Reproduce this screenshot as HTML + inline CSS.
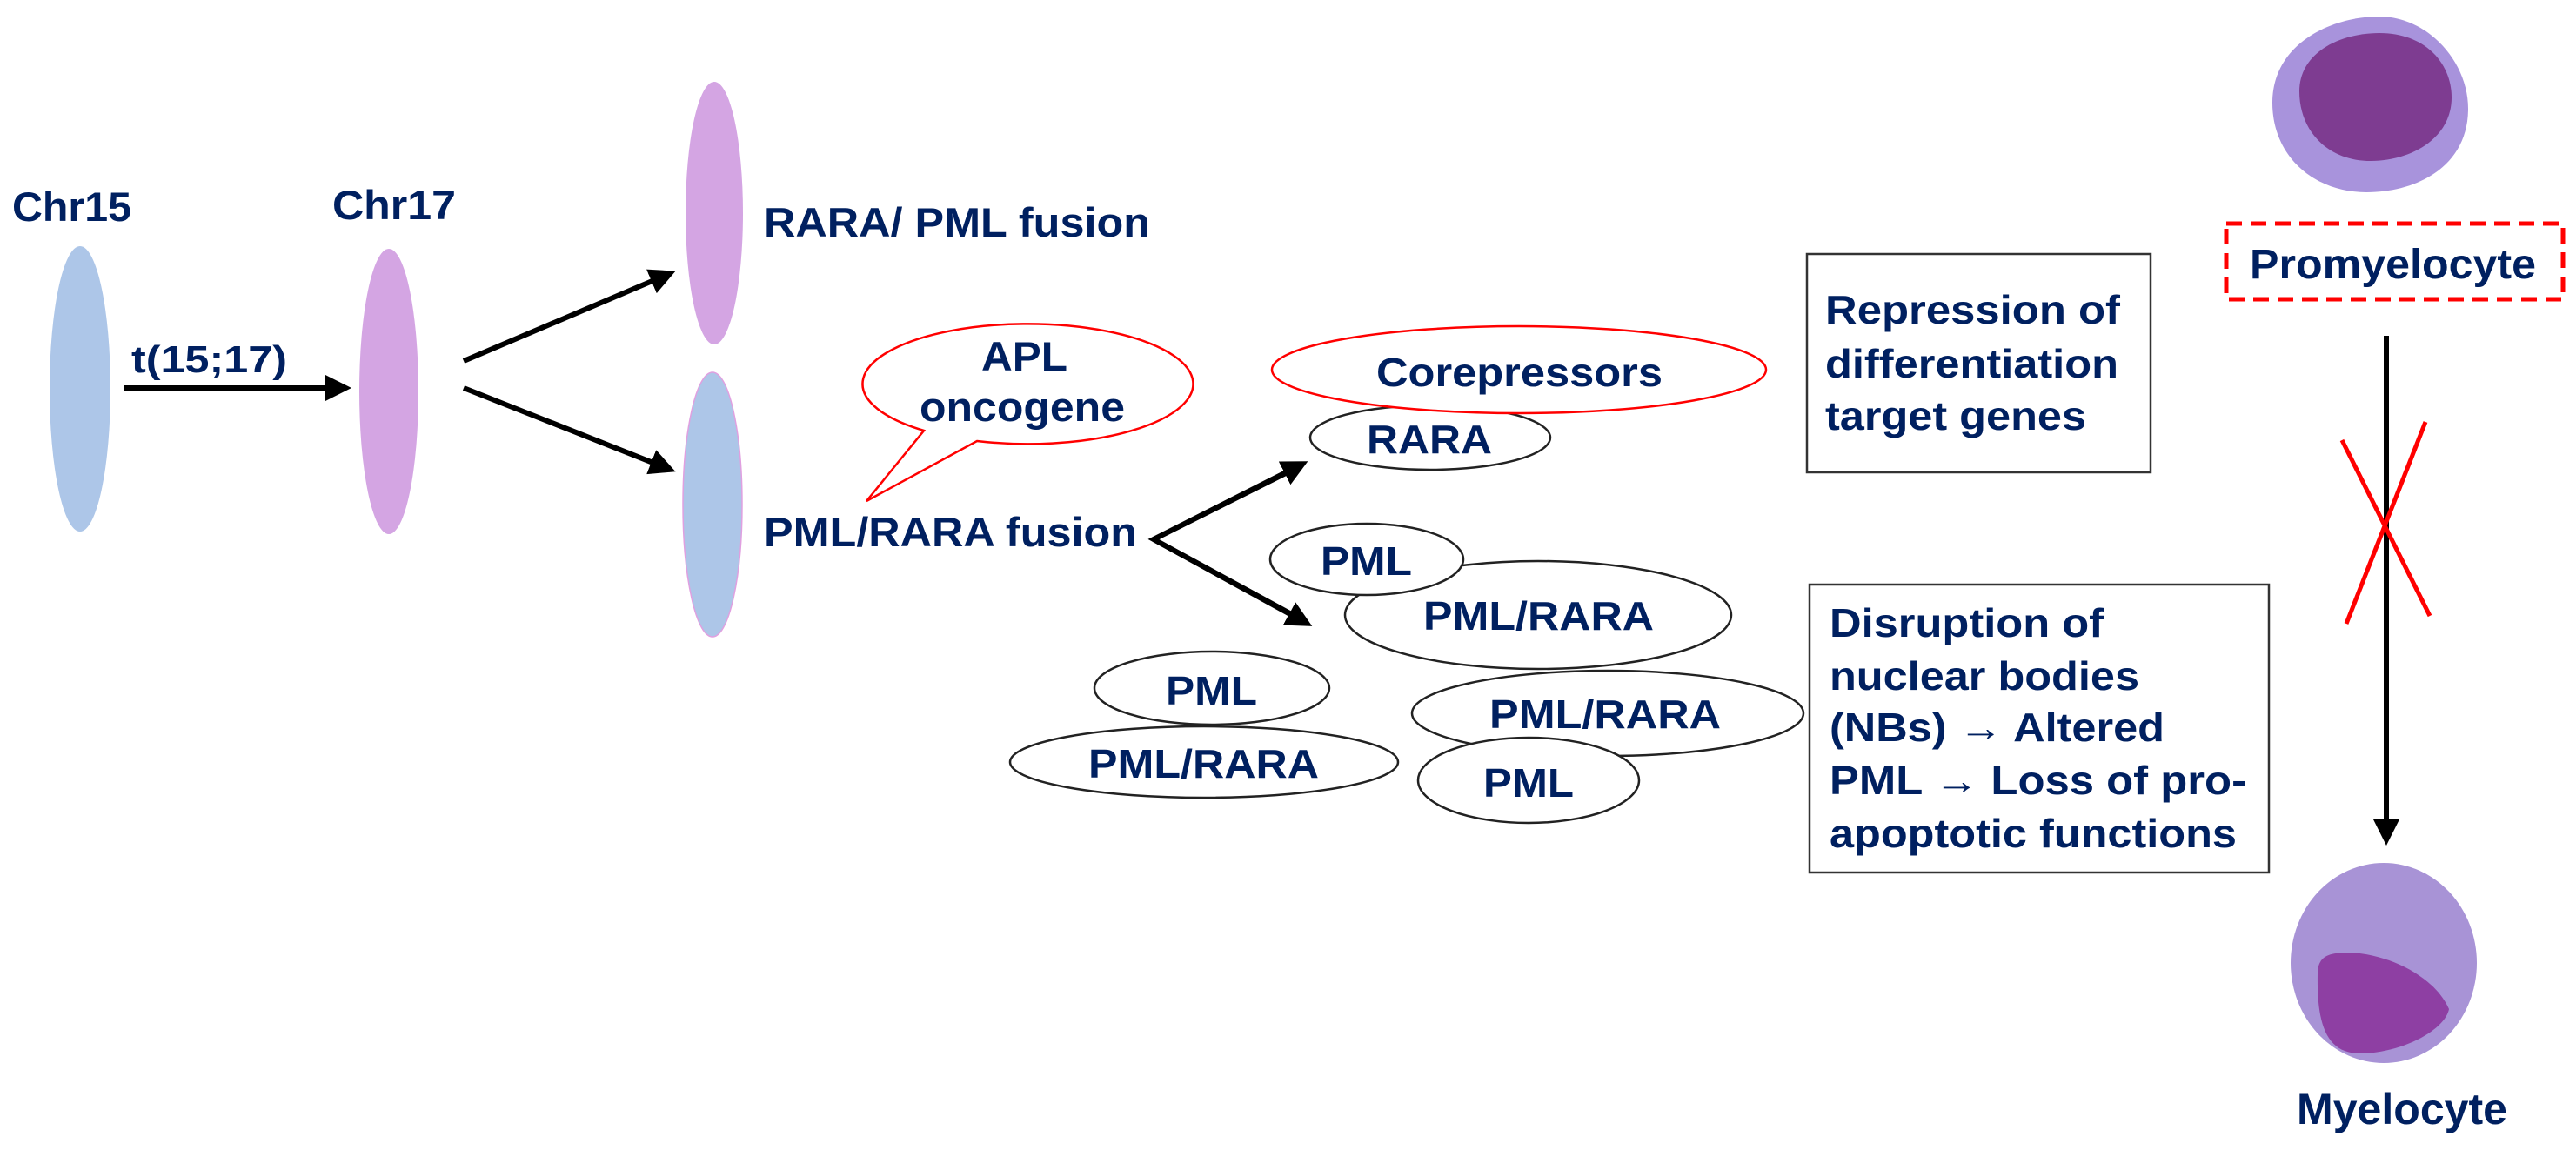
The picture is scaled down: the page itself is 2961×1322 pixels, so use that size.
<!DOCTYPE html>
<html><head><meta charset="utf-8"><style>html,body{margin:0;padding:0;background:#fff}svg{display:block}</style></head>
<body>
<svg width="2961" height="1322" viewBox="0 0 2961 1322" xmlns="http://www.w3.org/2000/svg">
<defs>
<marker id="ah" markerWidth="5" markerHeight="5" refX="4" refY="2.5" orient="auto" markerUnits="strokeWidth">
<path d="M0,0 L5,2.5 L0,5 Z" fill="#000"/></marker>
</defs>
<g font-family="Liberation Sans, Arial, sans-serif" font-weight="bold" fill="#002060" lengthAdjust="spacingAndGlyphs">
<ellipse cx="92" cy="447" rx="35" ry="164" fill="#adc6e8"/>
<ellipse cx="447" cy="450" rx="34" ry="164" fill="#d4a5e3"/>
<ellipse cx="821" cy="245" rx="33" ry="151" fill="#d4a5e3"/>
<ellipse cx="819" cy="580" rx="34" ry="152" fill="#adc6e8" stroke="#e0a0e0" stroke-width="1.5"/>
<text x="14" y="254" font-size="47" textLength="137" lengthAdjust="spacingAndGlyphs">Chr15</text>
<text x="382" y="252" font-size="47" textLength="142" lengthAdjust="spacingAndGlyphs">Chr17</text>
<text x="151" y="428" font-size="44" textLength="179" lengthAdjust="spacingAndGlyphs">t(15;17)</text>
<text x="878" y="272" font-size="47" textLength="444" lengthAdjust="spacingAndGlyphs">RARA/ PML fusion</text>
<text x="878" y="628" font-size="47" textLength="429" lengthAdjust="spacingAndGlyphs">PML/RARA fusion</text>
<g stroke="#000" stroke-width="6" fill="none">
<line x1="142" y1="446" x2="398" y2="446" marker-end="url(#ah)"/>
<line x1="533" y1="415" x2="771" y2="314" marker-end="url(#ah)"/>
<line x1="533" y1="446" x2="771" y2="540" marker-end="url(#ah)"/>
<polyline points="1496,535 1326,620 1501,715" stroke-width="6"/>
<line x1="1326" y1="620" x2="1498" y2="533" marker-end="url(#ah)"/>
<line x1="1326" y1="620" x2="1503" y2="717" marker-end="url(#ah)"/>
<line x1="2743" y1="386" x2="2743" y2="966" marker-end="url(#ah)"/>
</g>
<path d="M1062,495 A190,69 0 1 1 1123,507 L996,576 Z" fill="#fff" stroke="#f00" stroke-width="2.5"/>
<text x="1128" y="426" font-size="47" textLength="99" lengthAdjust="spacingAndGlyphs">APL</text>
<text x="1057" y="484" font-size="47" textLength="236" lengthAdjust="spacingAndGlyphs">oncogene</text>
<ellipse cx="1644" cy="503" rx="138" ry="37" fill="#fff" stroke="#222" stroke-width="2.5"/>
<text x="1571" y="521" font-size="46" textLength="144" lengthAdjust="spacingAndGlyphs">RARA</text>
<ellipse cx="1746" cy="425" rx="284" ry="50" fill="#fff" stroke="#f00" stroke-width="2.5"/>
<text x="1582" y="444" font-size="46" textLength="329" lengthAdjust="spacingAndGlyphs">Corepressors</text>
<g stroke="#222" stroke-width="2.5" fill="#fff">
<ellipse cx="1768" cy="707" rx="222" ry="62"/>
<ellipse cx="1571" cy="643" rx="111" ry="41"/>
<ellipse cx="1393" cy="791" rx="135" ry="42"/>
<ellipse cx="1384" cy="876" rx="223" ry="41"/>
<ellipse cx="1848" cy="820" rx="225" ry="49"/>
<ellipse cx="1757" cy="897" rx="127" ry="49"/>
</g>
<text x="1518" y="661" font-size="46" textLength="105" lengthAdjust="spacingAndGlyphs">PML</text>
<text x="1636" y="724" font-size="46" textLength="265" lengthAdjust="spacingAndGlyphs">PML/RARA</text>
<text x="1340" y="810" font-size="46" textLength="105" lengthAdjust="spacingAndGlyphs">PML</text>
<text x="1251" y="894" font-size="46" textLength="265" lengthAdjust="spacingAndGlyphs">PML/RARA</text>
<text x="1712" y="837" font-size="46" textLength="266" lengthAdjust="spacingAndGlyphs">PML/RARA</text>
<text x="1705" y="916" font-size="46" textLength="104" lengthAdjust="spacingAndGlyphs">PML</text>
<rect x="2077" y="292" width="395" height="251" fill="#fff" stroke="#333" stroke-width="2.5"/>
<text x="2098" y="372" font-size="46" textLength="339" lengthAdjust="spacingAndGlyphs">Repression of</text>
<text x="2098" y="434" font-size="46" textLength="337" lengthAdjust="spacingAndGlyphs">differentiation</text>
<text x="2098" y="494" font-size="46" textLength="300" lengthAdjust="spacingAndGlyphs">target genes</text>
<rect x="2080" y="672" width="528" height="331" fill="#fff" stroke="#333" stroke-width="2.5"/>
<text x="2103" y="732" font-size="46" textLength="315" lengthAdjust="spacingAndGlyphs">Disruption of</text>
<text x="2103" y="793" font-size="46" textLength="356" lengthAdjust="spacingAndGlyphs">nuclear bodies</text>
<text x="2103" y="852" font-size="46" textLength="385" lengthAdjust="spacingAndGlyphs">(NBs) → Altered</text>
<text x="2103" y="913" font-size="46" textLength="479" lengthAdjust="spacingAndGlyphs">PML → Loss of pro-</text>
<text x="2103" y="974" font-size="46" textLength="468" lengthAdjust="spacingAndGlyphs">apoptotic functions</text>
<path d="M2612,118 C2612,50 2680,19 2735,19 C2790,19 2837,70 2837,125 C2837,190 2780,221 2720,221 C2660,221 2612,180 2612,118 Z" fill="#a893dc"/>
<path d="M2643,105 C2643,60 2690,38 2735,38 C2790,38 2818,75 2818,112 C2818,160 2770,185 2725,185 C2675,185 2643,150 2643,105 Z" fill="#7e3c91"/>
<rect x="2559" y="257" width="387" height="87" fill="none" stroke="#f00" stroke-width="5" stroke-dasharray="18,10"/>
<text x="2586" y="320" font-size="48" textLength="329" lengthAdjust="spacingAndGlyphs">Promyelocyte</text>
<g stroke="#f00" stroke-width="5"><line x1="2692" y1="506" x2="2793" y2="708"/><line x1="2788" y1="485" x2="2697" y2="717"/></g>
<ellipse cx="2740" cy="1107" rx="107" ry="115" fill="#a893d6"/>
<path d="M2664,1120 C2664,1100 2675,1095 2700,1095 C2750,1097 2800,1125 2815,1160 C2810,1185 2760,1210 2715,1211 C2675,1212 2663,1180 2664,1120 Z" fill="#8e3fa3"/>
<text x="2640" y="1292" font-size="50" textLength="242" lengthAdjust="spacingAndGlyphs">Myelocyte</text>
</g>
</svg>
</body></html>
